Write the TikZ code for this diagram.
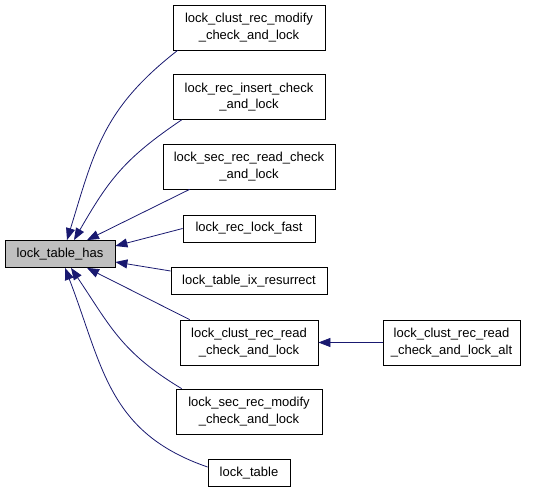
\documentclass[tikz,border=0pt]{standalone}
\usepackage{fontspec}
\setmainfont{Liberation Sans}
\usepackage{xcolor}
\usetikzlibrary{arrows.meta}
\definecolor{edgeblue}{HTML}{191970}
\definecolor{hasgray}{HTML}{BFBFBF}

\begin{document}
\begin{tikzpicture}[x=1pt, y=1pt,
    box/.style={rectangle, draw, line width=0.8pt, minimum height=27pt, inner sep=0pt, align=center, font=\fontsize{13}{16.5}\selectfont},
    bigbox/.style={box, minimum height=45pt},
    arrow/.style={edgeblue, line width=0.8pt, ->, >={Triangle[length=12pt, width=9pt]}}
]
\useasboundingbox (0,0) rectangle (533,493);

\node[box, fill=hasgray, minimum width=110pt] (has) at (60, 239) {lock\_table\_has};

\node[bigbox, minimum width=152pt] (cmod) at (249, 465.5) {lock\_clust\_rec\_modify\\\_check\_and\_lock};
\node[bigbox, minimum width=152pt] (rins) at (249, 396) {lock\_rec\_insert\_check\\\_and\_lock};
\node[bigbox, minimum width=172pt] (srd) at (249, 326.5) {lock\_sec\_rec\_read\_check\\\_and\_lock};
\node[box, minimum width=132pt] (fast) at (249, 264.5) {lock\_rec\_lock\_fast};
\node[box, minimum width=156pt] (ixr) at (249, 212) {lock\_table\_ix\_resurrect};
\node[bigbox, minimum width=138pt] (crr) at (249, 150.5) {lock\_clust\_rec\_read\\\_check\_and\_lock};
\node[bigbox, minimum width=146pt] (smod) at (249, 81.5) {lock\_sec\_rec\_modify\\\_check\_and\_lock};
\node[box, minimum width=82pt] (tbl) at (249, 20) {lock\_table};

\node[bigbox, minimum width=137pt] (alt) at (451.5, 150.5) {lock\_clust\_rec\_read\\\_check\_and\_lock\_alt};

\draw[arrow] ([xshift=5]cmod.south west) to[out=218, in=73, looseness=1.1] ([xshift=7]has.north);
\draw[arrow] ([xshift=9]rins.south west) to[out=214, in=60, looseness=1.1] ([xshift=14]has.north);
\draw[arrow] ([xshift=27]srd.south west) -- ([xshift=27]has.north);
\draw[arrow] (fast.west) -- ([yshift=8]has.east);
\draw[arrow] ([yshift=10]ixr.west) -- ([yshift=-8]has.east);
\draw[arrow] ([xshift=10]crr.north west) -- ([xshift=27]has.south);
\draw[arrow] ([xshift=6]smod.north west) to[out=149, in=-56, looseness=1.1] ([xshift=11]has.south);
\draw[arrow] ([yshift=6]tbl.west) to[out=161, in=-69, looseness=1.1] ([xshift=5]has.south);
\draw[arrow] (alt) -- (crr);

\end{tikzpicture}
\end{document}
